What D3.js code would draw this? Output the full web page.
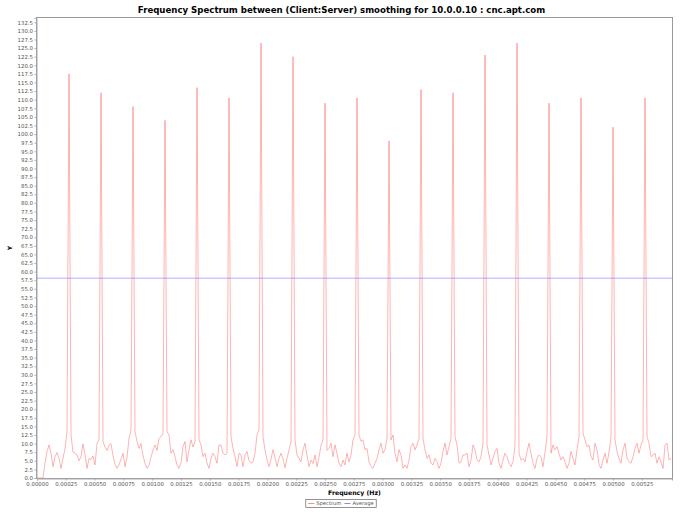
<!DOCTYPE html>
<html>
<head>
<meta charset="utf-8">
<script src="https://cdn.jsdelivr.net/npm/d3@7"></script>
<style>
  body { margin: 0; background: #fff; }
  text { font-family: "DejaVu Sans", sans-serif; }
</style>
</head>
<body>
<div id="chart"></div>
<script>
var w = 683,
  h = 512;
var margin = { left: 37, right: 11, top: 18, bottom: 34 },
  width = w - margin.left - margin.right,
  height = h - margin.top - margin.bottom;

var title = "Frequency Spectrum between (Client:Server) smoothing for 10.0.0.10 : cnc.apt.com";

// one value per frequency bin (bin width = 1/57600 Hz)
var binHz = 1 / 57600;
var spectrum = [
  0, 0, 0, 0, 4.3, 7.7, 9.6, 7.2, 3.3, 6.2, 7.4, 5.7, 2.8, 5.7, 8.6, 13.5,
  117.5, 12.5, 7.5, 7.2, 6.7, 5.0, 6.2, 9.9, 6.7, 2.8, 5.7, 5.4, 6.4, 3.8, 10.1, 11.1,
  112, 10.6, 9.0, 8.0, 9.5, 10.0, 6.5, 4.0, 2.8, 3.8, 5.5, 7.2, 3.3, 6.0, 11.5, 14.0,
  108, 13.5, 10.6, 8.6, 10.0, 6.5, 4.3, 2.8, 3.8, 6.0, 8.2, 9.6, 8.0, 11.5, 12.0, 13.0,
  104, 13.5, 12.5, 7.2, 8.2, 6.2, 3.8, 2.8, 4.5, 9.1, 10.6, 4.7, 8.2, 11.1, 9.0, 10.6,
  113.5, 11.1, 9.6, 6.2, 7.2, 4.3, 2.8, 5.7, 7.2, 6.2, 4.3, 9.6, 9.6, 7.2, 6.7, 7.2,
  110.5, 12.0, 8.6, 6.2, 3.3, 7.2, 6.7, 3.3, 6.7, 7.7, 5.0, 4.3, 4.7, 7.2, 12.5, 14.0,
  126.5, 12.0, 8.2, 5.2, 3.3, 5.5, 8.2, 6.0, 3.3, 5.7, 7.2, 5.5, 3.0, 5.7, 8.2, 10.6,
  122.5, 11.1, 6.7, 5.7, 4.7, 8.2, 10.1, 6.5, 3.3, 5.2, 4.2, 6.7, 3.3, 6.0, 9.5, 11.0,
  109, 8.0, 8.6, 10.1, 6.2, 9.6, 7.2, 4.3, 3.3, 5.2, 3.8, 7.2, 4.7, 6.7, 11.1, 12.5,
  110.5, 12.5, 10.6, 11.1, 8.2, 8.6, 4.7, 3.3, 2.8, 4.3, 5.7, 8.2, 10.1, 7.2, 8.2, 11.6,
  98, 11.1, 12.5, 7.2, 4.7, 8.2, 6.7, 2.8, 3.8, 2.8, 5.2, 9.1, 10.1, 8.2, 9.6, 11.5,
  113, 11.5, 8.2, 5.7, 6.7, 4.3, 3.8, 5.7, 4.7, 2.8, 4.3, 7.7, 10.1, 6.7, 9.1, 11.5,
  112, 12.0, 9.6, 4.3, 4.7, 6.7, 6.7, 7.2, 3.3, 5.2, 9.6, 8.2, 5.2, 4.7, 6.2, 10.0,
  123, 9.6, 6.7, 3.8, 5.7, 7.7, 8.6, 4.3, 2.8, 5.2, 7.2, 6.2, 4.3, 3.3, 4.7, 9.5,
  126.5, 7.2, 5.2, 5.7, 4.7, 7.7, 10.1, 7.2, 4.3, 2.8, 5.7, 6.7, 6.2, 3.3, 7.5, 12.0,
  109, 7.2, 9.6, 8.2, 9.1, 7.2, 5.2, 6.2, 4.7, 2.8, 4.3, 7.7, 5.7, 3.8, 8.2, 12.0,
  110.5, 13.0, 11.1, 9.1, 9.6, 6.2, 5.2, 10.1, 8.2, 3.8, 2.8, 5.2, 7.2, 4.3, 7.5, 12.0,
  102, 11.1, 7.7, 5.7, 4.3, 8.2, 10.1, 5.7, 4.7, 4.3, 6.2, 8.6, 10.1, 7.2, 9.6, 11.0,
  110.5, 12.0, 10.1, 6.2, 6.7, 7.2, 4.3, 6.2, 4.7, 2.8, 9.6, 10.1, 5.2, 5.7
];
var average = 58.1;

var xTicks = d3.range(0, 0.0053, 0.00025);
var yTicks = d3.range(0, 133, 2.5);
var seriesNames = ["Spectrum", "Average"];
var seriesColors = ["#ff5555", "#5555ff"];

var svg = d3
  .select("#chart")
  .append("svg")
  .attr("width", w)
  .attr("height", h);

svg.append("rect").attr("width", w).attr("height", h).attr("fill", "#fff");

var g = svg
  .append("g")
  .attr("transform", `translate(${margin.left}, ${margin.top})`);

var x = d3.scaleLinear().domain([0, 0.005512]).range([0, width]);
var y = d3.scaleLinear().domain([0, 133.75]).range([height, 0]);

// title
svg
  .append("text")
  .attr("x", w / 2)
  .attr("y", 13)
  .attr("text-anchor", "middle")
  .attr("font-weight", "bold")
  .attr("font-size", "8.6px")
  .attr("fill", "#000")
  .text(title);

// plot outline
g.append("rect")
  .attr("x", -0.5)
  .attr("y", -0.5)
  .attr("width", width + 1)
  .attr("height", height + 1)
  .attr("fill", "#fff")
  .attr("stroke", "#999")
  .attr("stroke-width", 1);

// axes
var yAxis = g
  .append("g")
  .attr("transform", "translate(-0.5,0)")
  .call(
    d3.axisLeft(y).tickValues(yTicks).tickFormat(d3.format(".1f")).tickSize(2).tickPadding(1.5)
  );
var xAxis = g
  .append("g")
  .attr("transform", `translate(0,${height + 0.5})`)
  .call(
    d3.axisBottom(x).tickValues(xTicks).tickFormat(d3.format(".5f")).tickSize(2).tickPadding(1.5)
  );

[yAxis, xAxis].forEach((a) => {
  a.select(".domain").attr("stroke", "#aaa");
  a.selectAll(".tick line").attr("stroke", "#aaa");
  a.selectAll(".tick text")
    .attr("fill", "#555")
    .attr("font-size", "5.4px")
    .attr("font-family", "DejaVu Sans, sans-serif");
});

// axis labels
svg
  .append("text")
  .attr("transform", `translate(12, ${margin.top + height / 2})rotate(-90)`)
  .attr("text-anchor", "middle")
  .attr("font-weight", "bold")
  .attr("font-size", "6px")
  .text("Y");

svg
  .append("text")
  .attr("x", margin.left + width / 2)
  .attr("y", 494.5)
  .attr("text-anchor", "middle")
  .attr("font-weight", "bold")
  .attr("font-size", "6.2px")
  .text("Frequency (Hz)");

// series
g.append("clipPath")
  .attr("id", "clip")
  .append("rect")
  .attr("width", width)
  .attr("height", height);

var line = d3
  .line()
  .x((d, i) => x(i * binHz))
  .y((d) => y(d));

g.append("path")
  .datum(spectrum)
  .attr("clip-path", "url(#clip)")
  .attr("fill", "none")
  .attr("stroke", seriesColors[0])
  .attr("stroke-opacity", 0.75)
  .attr("stroke-width", 0.6)
  .attr("stroke-linejoin", "round")
  .attr("d", line);

g.append("line")
  .attr("x1", 0)
  .attr("x2", width)
  .attr("y1", y(average))
  .attr("y2", y(average))
  .attr("stroke", seriesColors[1])
  .attr("stroke-opacity", 0.8)
  .attr("stroke-width", 0.6);

// legend
var legend = svg.append("g");
var lx = 0;
seriesNames.forEach((name, i) => {
  var item = legend.append("g").attr("transform", `translate(${lx},0)`);
  item
    .append("line")
    .attr("x1", 0)
    .attr("x2", 6)
    .attr("y1", 0)
    .attr("y2", 0)
    .attr("stroke", seriesColors[i])
    .attr("stroke-width", 0.7);
  var t = item
    .append("text")
    .attr("x", 8)
    .attr("y", 1.8)
    .attr("font-size", "5.2px")
    .attr("fill", "#555")
    .text(name);
  lx += 8 + t.node().getComputedTextLength() + 3;
});
var lw = lx - 3;
legend.attr("transform", `translate(${w / 2 - lw / 2 - 0.5}, 503.5)`);
legend
  .insert("rect", ":first-child")
  .attr("x", -2.5)
  .attr("y", -4)
  .attr("width", lw + 5)
  .attr("height", 8)
  .attr("fill", "#fff")
  .attr("stroke", "#666")
  .attr("stroke-width", 0.7);
</script>
</body>
</html>
